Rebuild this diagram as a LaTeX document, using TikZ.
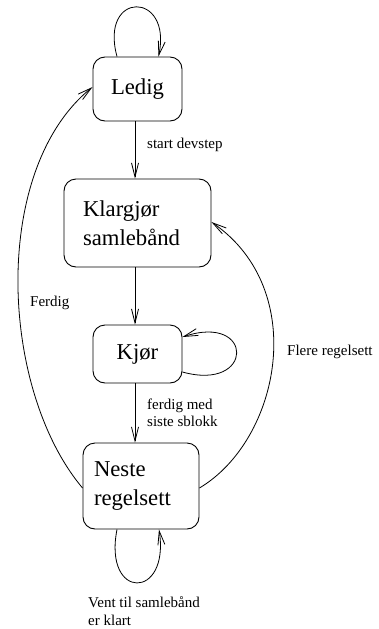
\documentclass[tikz,border=0pt]{standalone}
\usepackage{fontspec}
\setmainfont{Liberation Serif}
\newfontfamily\timesfam{Liberation Serif}
\usetikzlibrary{arrows.meta}
\begin{document}
\begin{tikzpicture}[x=1pt,y=-1pt,
  state/.style={draw,rounded corners=12pt,line width=0.9pt,align=left,
    font=\timesfam\fontsize{22.7}{29.5}\selectfont},
  lbl/.style={anchor=west,align=left,inner sep=0pt,
    font=\timesfam\fontsize{15}{17.5}\selectfont},
  edge/.style={line width=0.8pt,-{Straight Barb[length=14pt,width=7pt,line width=0.8pt]}}]
\useasboundingbox (0,0) rectangle (379,629);

% states
\node[state,minimum width=89pt,minimum height=64pt] (ledig) at (137.5,89) {Ledig};
\node[state,minimum width=147pt,minimum height=88pt,text width=109pt,inner xsep=19pt]
  (klar) at (137.5,223) {Klargjør\\samlebånd};
\node[state,minimum width=89pt,minimum height=58pt] (kjor) at (137.5,354) {Kjør};
\node[state,minimum width=116pt,minimum height=86pt,text width=94pt,inner xsep=11pt]
  (neste) at (141,486) {Neste\\regelsett};

% straight transitions
\draw[edge] ([xshift=-2.5pt]ledig.south) -- ([xshift=-2.5pt]klar.north);
\draw[edge] ([xshift=-2.5pt]klar.south) -- ([xshift=-2.5pt]kjor.north);
\draw[edge] ([xshift=-2.5pt]kjor.south) -- ([xshift=-2.5pt]kjor.south |- neste.north);

% self loops (shifts are page-oriented: positive yshift moves up)
\draw[edge] ([xshift=-20.5pt]ledig.north) .. controls +(-18,-66) and +(14,-66) .. ([xshift=21pt]ledig.north);
\draw[edge] ([yshift=-18pt]kjor.east) .. controls +(72,20) and +(72,-24) .. ([yshift=17pt]kjor.east);
\draw[edge] ([xshift=-24pt]neste.south) .. controls +(-14,71) and +(11,71) .. ([xshift=18pt]neste.south);

% long transitions
\draw[edge] ([yshift=-2pt]neste.west) .. controls (0,390) and (-10,170) .. ([yshift=2pt]ledig.west);
\draw[edge] ([yshift=-2pt]neste.east) .. controls (280,440) and (310,290) .. ([yshift=1pt]klar.east);

% labels
\node[lbl] (l1) at (147,145) {start devstep};
\node[lbl] (l2) at (30,303) {Ferdig};
\node[lbl] (l3) at (287,352) {Flere regelsett};
\node[lbl] (l4) at (147,413) {ferdig med\\siste sblokk};
\node[lbl] (l5) at (88,611) {Vent til samlebånd\\er klart};
\end{tikzpicture}
\end{document}
